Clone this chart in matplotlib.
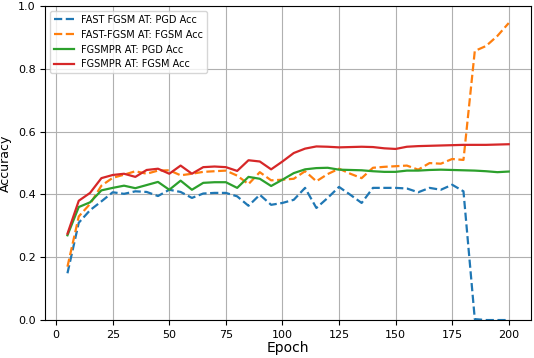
import numpy as np
import matplotlib
matplotlib.use("Agg")
import matplotlib.pyplot as plt

epochs = np.arange(5, 205, 5)

fast_pgd = [0.149, 0.31, 0.35, 0.378, 0.407, 0.402, 0.41, 0.408, 0.395, 0.415,
            0.408, 0.389, 0.403, 0.405, 0.405, 0.394, 0.364, 0.399, 0.367, 0.373,
            0.383, 0.421, 0.357, 0.389, 0.424, 0.399, 0.373, 0.421, 0.421, 0.421,
            0.419, 0.407, 0.421, 0.415, 0.431, 0.41, 0.003, 0.0, 0.0, 0.0]
fast_fgsm = [0.17, 0.33, 0.37, 0.428, 0.453, 0.463, 0.474, 0.466, 0.476, 0.477,
             0.461, 0.466, 0.472, 0.474, 0.476, 0.46, 0.433, 0.471, 0.445, 0.447,
             0.45, 0.474, 0.442, 0.465, 0.482, 0.466, 0.452, 0.485, 0.488, 0.49,
             0.492, 0.479, 0.5, 0.498, 0.513, 0.51, 0.857, 0.873, 0.905, 0.946]
pr_pgd = [0.27, 0.36, 0.375, 0.413, 0.421, 0.428, 0.42, 0.43, 0.44, 0.415,
          0.444, 0.415, 0.437, 0.439, 0.439, 0.421, 0.456, 0.45, 0.427, 0.447,
          0.468, 0.48, 0.484, 0.485, 0.479, 0.478, 0.477, 0.474, 0.472, 0.472,
          0.476, 0.476, 0.478, 0.479, 0.478, 0.477, 0.476, 0.474, 0.471, 0.473]
pr_fgsm = [0.275, 0.38, 0.405, 0.452, 0.462, 0.466, 0.456, 0.478, 0.482, 0.466,
           0.492, 0.466, 0.487, 0.489, 0.487, 0.475, 0.509, 0.505, 0.48, 0.505,
           0.532, 0.546, 0.553, 0.552, 0.55, 0.551, 0.552, 0.551, 0.547, 0.545,
           0.552, 0.554, 0.555, 0.556, 0.557, 0.558, 0.558, 0.558, 0.559, 0.56]

fig, ax = plt.subplots(figsize=(5.34, 3.58), dpi=100)
fig.subplots_adjust(left=0.085, right=0.994, bottom=0.106, top=0.983)

ax.plot(epochs, fast_pgd, '--', color='C0', lw=1.6, label='FAST FGSM AT: PGD Acc')
ax.plot(epochs, fast_fgsm, '--', color='C1', lw=1.6, label='FAST-FGSM AT: FGSM Acc')
ax.plot(epochs, pr_pgd, '-', color='C2', lw=1.6, label='FGSMPR AT: PGD Acc')
ax.plot(epochs, pr_fgsm, '-', color='C3', lw=1.6, label='FGSMPR AT: FGSM Acc')

ax.set_ylim(0, 1.0)
ax.set_xticks(np.arange(0, 201, 25))
ax.tick_params(labelsize=8)
ax.set_xlabel('Epoch', fontsize=10, labelpad=1)
ax.set_ylabel('Accuracy', fontsize=9, labelpad=4)
ax.grid(True)
ax.legend(loc='upper left', fontsize=7)

fig.savefig('out.png', dpi=100)
